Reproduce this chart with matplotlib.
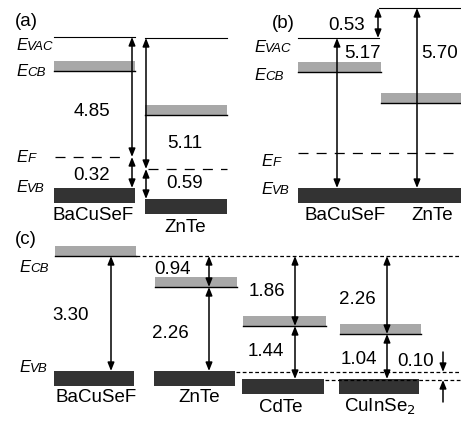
import matplotlib
matplotlib.use('Agg')
from matplotlib import pyplot as plt

plt.rcParams['font.family'] = ['Liberation Sans', 'DejaVu Sans']

# schematic level heights (picture units, y grows downward)
# panel (a): separate BaCuSeF and ZnTe
a_names = ['BaCuSeF', 'ZnTe']
a_x = [(54, 135), (145, 227)]
a_evac = [37, 38]
a_cb = [71, 115]
a_ef = [157, 169]
a_vb = [188, 199]
a_wf = ['4.85', '5.11']
a_efvb = ['0.32', '0.59']

# panel (b): in contact, common Fermi level
b_names = ['BaCuSeF', 'ZnTe']
b_x = [(298, 379), (379, 461)]
b_evac = [38, 8]
b_cb = [72, 103]
b_ef = 153
b_vb = 188
b_evb = ['5.17', '5.70']
b_dvac = '0.53'

# panel (c): band alignment of four absorbers
c_names = ['BaCuSeF', 'ZnTe', 'CdTe', 'CuInSe$_2$']
c_x = [(55, 136), (155, 237), (243, 326), (340, 421)]
c_cb = [256, 287, 326, 334]
c_vb = [371, 371, 379, 379]
c_dcb = ['', '0.94', '1.86', '2.26']
c_gap = ['3.30', '2.26', '1.44', '1.04']
c_dvb = '0.10'

GRAY = '#a8a8a8'
DARK = '#333333'
FS = 13.5

fig = plt.figure(figsize=(4.61, 4.22), dpi=100)
ax = fig.add_axes([0, 0, 1, 1])
ax.set_xlim(0, 461)
ax.set_ylim(422, 0)
ax.axis('off')


def arrow(x, y1, y2, style='<|-|>'):
    ax.annotate('', xy=(x, y2), xytext=(x, y1),
                arrowprops=dict(arrowstyle=style + ',head_length=0.55,head_width=0.22',
                                lw=1.1, color='k', shrinkA=0, shrinkB=0,
                                mutation_scale=9))


def cb_band(x0, x1, y):
    ax.fill_between([x0, x1], y - 10, y, color=GRAY, lw=0)
    ax.plot([x0, x1], [y, y], color='k', lw=1.0)


def vb_block(x0, x1, y):
    ax.fill_between([x0, x1], y, y + 15, color=DARK, lw=0)


def elabel(x, y, sub):
    t = ax.text(x, y, 'E', fontsize=12, fontstyle='italic', ha='left',
                va='center')
    ax.annotate(sub, xy=(1, 0), xycoords=t, fontsize=9.5, fontstyle='italic',
                ha='left', va='bottom')


# ---- (a)
for i in range(2):
    x0, x1 = a_x[i]
    ax.plot([x0, x1], [a_evac[i], a_evac[i]], color='k', lw=0.8)
    cb_band(x0, x1, a_cb[i])
    vb_block(x0, x1, a_vb[i])
ax.plot([55, 126], [a_ef[0]] * 2, color='k', lw=0.9, ls=(0, (8, 6.5)))
ax.plot([148, 227], [a_ef[1]] * 2, color='k', lw=0.9, ls=(0, (8, 6.5)))
arrow(132, a_evac[0], a_ef[0])
arrow(132, a_ef[0], a_vb[0])
arrow(146, a_evac[1], a_ef[1])
arrow(146, a_ef[1], a_vb[1])
ax.text(92, 111, a_wf[0], fontsize=FS, ha='center', va='center')
ax.text(185, 144, a_wf[1], fontsize=FS, ha='center', va='center')
ax.text(92, 175, a_efvb[0], fontsize=FS, ha='center', va='center')
ax.text(185, 183, a_efvb[1], fontsize=FS, ha='center', va='center')
ax.text(93, 215, a_names[0], fontsize=FS, ha='center', va='center')
ax.text(185, 228, a_names[1], fontsize=FS, ha='center', va='center')
ax.text(26, 21, '(a)', fontsize=FS, ha='center', va='center')
elabel(16, 46, 'VAC')
elabel(16, 72, 'CB')
elabel(16, 158, 'F')
elabel(16, 188, 'VB')

# ---- (b)
for i in range(2):
    x0, x1 = b_x[i]
    ax.plot([x0, x1], [b_evac[i], b_evac[i]], color='k', lw=0.8)
    cb_band(x0 if i == 0 else x0 + 2, x1 + (2 if i == 0 else 0), b_cb[i])
vb_block(b_x[0][0], b_x[1][1], b_vb)
ax.plot([b_x[0][0], b_x[1][1]], [b_ef] * 2, color='k', lw=0.9,
        ls=(0, (8, 6.5)))
arrow(378, b_evac[1], b_evac[0])
arrow(337, b_evac[0], b_vb)
arrow(417, b_evac[1], b_vb)
ax.text(347, 25, b_dvac, fontsize=FS, ha='center', va='center')
ax.text(363, 53, b_evb[0], fontsize=FS, ha='center', va='center')
ax.text(440, 53, b_evb[1], fontsize=FS, ha='center', va='center')
ax.text(345, 215, b_names[0], fontsize=FS, ha='center', va='center')
ax.text(432, 215, b_names[1], fontsize=FS, ha='center', va='center')
ax.text(283, 24, '(b)', fontsize=FS, ha='center', va='center')
elabel(254, 48, 'VAC')
elabel(254, 75, 'CB')
elabel(261, 162, 'F')
elabel(261, 190, 'VB')

# ---- (c)
ax.plot([136, 461], [c_cb[0]] * 2, color='k', lw=0.9, ls=(0, (3, 2)))
ax.plot([236, 461], [c_vb[0] + 1] * 2, color='k', lw=0.9, ls=(0, (3, 2)))
ax.plot([325, 461], [c_vb[2] + 1] * 2, color='k', lw=0.9, ls=(0, (3, 2)))
arrow_x = [111, 209, 295, 387]
dcb_pos = [None, (172, 270), (267, 292), (357, 299)]
gap_pos = [(71, 315), (170, 333), (266, 351), (359, 360)]
name_pos = [(96, 397), (199, 397), (281, 407), (380, 407)]
for i in range(4):
    x0, x1 = c_x[i]
    cb_band(x0, x1, c_cb[i])
    vb_block(x0 - 1, x1 - 2, c_vb[i])
    if i > 0:
        arrow(arrow_x[i], c_cb[0], c_cb[i])
        ax.text(*dcb_pos[i], c_dcb[i], fontsize=FS, ha='center', va='center')
    arrow(arrow_x[i], c_cb[i], c_vb[i])
    ax.text(*gap_pos[i], c_gap[i], fontsize=FS, ha='center', va='center')
    ax.text(*name_pos[i], c_names[i], fontsize=FS, ha='center', va='center')
arrow(443, 352, c_vb[0] + 1, style='-|>')
arrow(443, 402, c_vb[2] + 1, style='-|>')
ax.text(416, 361, c_dvb, fontsize=FS, ha='center', va='center')
ax.text(26, 240, '(c)', fontsize=FS, ha='center', va='center')
elabel(19, 268, 'CB')
elabel(19, 368, 'VB')

fig.savefig('out.png', dpi=100)
